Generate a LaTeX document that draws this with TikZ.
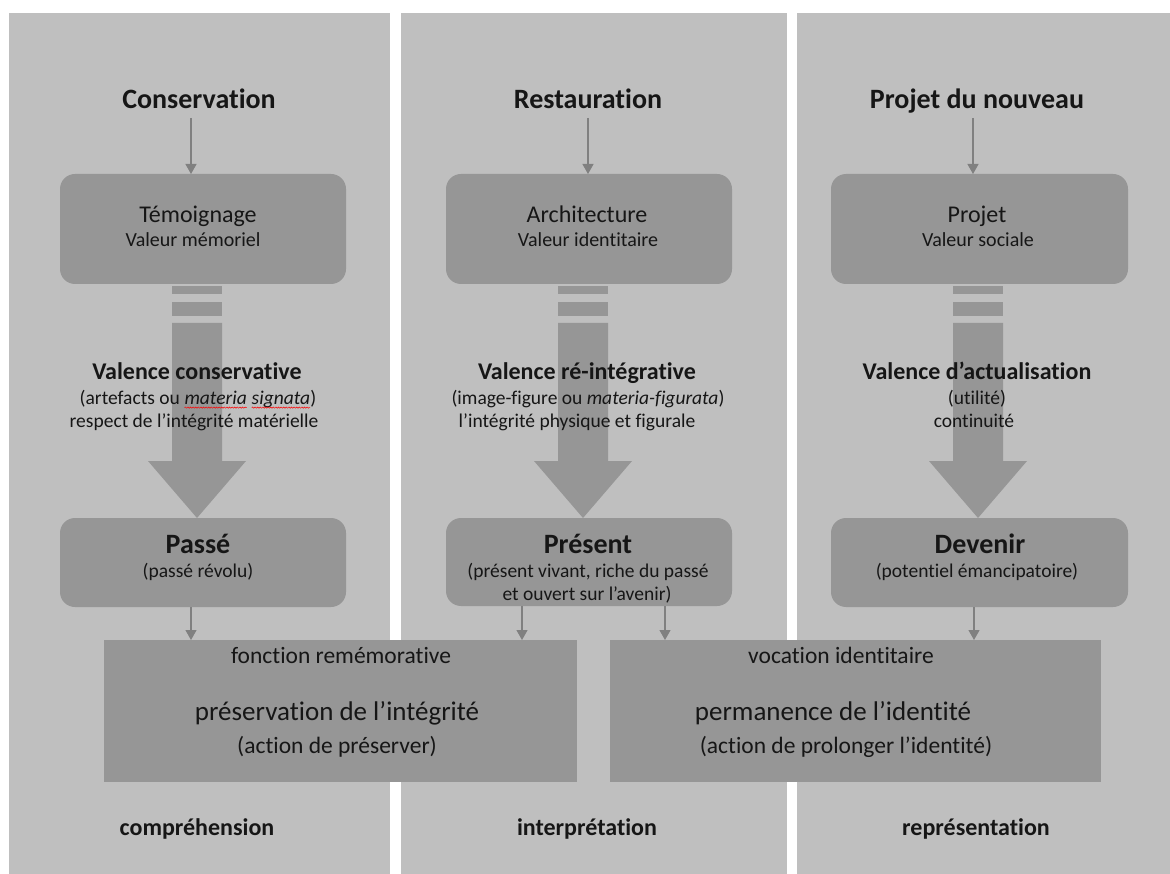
\documentclass[tikz,border=0pt]{standalone}
\usepackage{fontspec}
\setmainfont{Carlito}[Ligatures={NoCommon}]
\usetikzlibrary{arrows.meta,decorations.pathmorphing}
\definecolor{panelgray}{RGB}{191,191,191}
\definecolor{boxgray}{RGB}{150,150,150}
\definecolor{linegray}{RGB}{128,128,128}
\definecolor{textdark}{RGB}{22,22,22}
\newcommand{\fsz}[1]{\fontsize{#1}{1.2\dimexpr#1pt\relax}\selectfont}
\newcommand{\spellwave}[2]{\tikz[baseline=(#1.base)]{\node[inner sep=0pt,outer sep=0pt,anchor=base] (#1) {#2};\draw[red,line width=0.5pt,decorate,decoration={snake,amplitude=0.6pt,segment length=2.6pt}] ([yshift=-2.6pt]#1.base west) -- ([yshift=-2.6pt]#1.base east);}}
\tikzset{
  rbox/.style={fill=boxgray,draw=none,rounded corners=15pt,inner sep=0pt,outer sep=0pt},
  sbox/.style={fill=boxgray,draw=none,inner sep=0pt,outer sep=0pt},
  txt/.style={anchor=base,inner sep=0pt,outer sep=0pt,text=textdark},
  ttl/.style={txt,font=\fsz{28}\bfseries,text depth=0pt,inner ysep=9pt},
  boxmain/.style={txt,font=\fsz{24}},
  boxsub/.style={txt,font=\fsz{20}},
  valtitle/.style={txt,font=\fsz{24}\bfseries},
  valsub/.style={txt,font=\fsz{19.5}},
  stagetitle/.style={txt,font=\fsz{28}\bfseries},
  stagesub/.style={txt,font=\fsz{19.5}},
  bsmall/.style={txt,font=\fsz{23.5}},
  bbig/.style={txt,font=\fsz{27}},
  foot/.style={txt,font=\fsz{24}\bfseries},
  conn/.style={draw=linegray,line width=1.2pt,-{Triangle[width=11pt,length=10pt]}},
  bigarrow/.style={fill=boxgray,draw=none}
}
\begin{document}
\begin{tikzpicture}[x=1pt,y=-1pt]
\useasboundingbox (0,0) rectangle (1170,874);
\fill[white] (0,0) rectangle (1170,874);
% panels
\fill[panelgray] (9,13) rectangle (390,874);
\fill[panelgray] (401,13) rectangle (787,874);
\fill[panelgray] (797,13) rectangle (1170,874);

% column x coordinates
\coordinate (ax1) at (197,0);
\coordinate (ax2) at (583,0);
\coordinate (ax3) at (978,0);
\coordinate (k1) at (191,0);
\coordinate (k2) at (588,0);
\coordinate (k3) at (973,0);
\coordinate (m1) at (191,0);
\coordinate (m2) at (522,0);
\coordinate (m3) at (665,0);
\coordinate (m4) at (974,0);

% titles
\node[ttl] (t1) at (199,109) {Conservation};
\node[ttl] (t2) at (588,109) {Restauration};
\node[ttl] (t3) at (977,109) {Projet du nouveau};

% top boxes
\node[rbox,minimum width=286pt,minimum height=110pt] (b1) at (203,229) {};
\node[rbox,minimum width=286pt,minimum height=110pt] (b2) at (589,229) {};
\node[rbox,minimum width=297pt,minimum height=110pt] (b3) at (979.5,229) {};
\node[boxmain] (b1a) at (198,223) {Témoignage};
\node[boxsub]  (b1b) at (193,247) {Valeur mémoriel};
\node[boxmain] (b2a) at (587,223) {Architecture};
\node[boxsub]  (b2b) at (588,247) {Valeur identitaire};
\node[boxmain] (b3a) at (977,223) {Projet};
\node[boxsub]  (b3b) at (978,247) {Valeur sociale};

% stage boxes
\node[rbox,minimum width=286pt,minimum height=89pt] (p1) at (203,562.5) {};
\node[rbox,minimum width=286pt,minimum height=88pt] (p2) at (589,562) {};
\node[rbox,minimum width=297pt,minimum height=89pt] (p3) at (979.5,562.5) {};

% big arrows with stripes
\foreach \a/\b/\p in {ax1/b1/p1,ax2/b2/p2,ax3/b3/p3}{
  \fill[bigarrow] (\a |- \b.south) ++(-25,2) rectangle ++(50,8);
  \fill[bigarrow] (\a |- \b.south) ++(-25,18) rectangle ++(50,14);
  \fill[bigarrow] (\a |- \p.north) -- ++(-49,-57) -- ++(24,0) -- ++(0,-138) -- ++(50,0) -- ++(0,138) -- ++(24,0) -- cycle;
}

% valence texts
\node[valtitle] (v1a) at (197,380) {Valence conservative};
\node[valsub]   (v1b) at (198,405) {(artefacts ou \textit{\spellwave{w1}{materia} \spellwave{w2}{signata}})};
\node[valsub]   (v1c) at (194,428) {respect de l’intégrité matérielle};
\node[valtitle] (v2a) at (587,380) {Valence ré-intégrative};
\node[valsub]   (v2b) at (588,405) {(image-figure ou \textit{materia-figurata})};
\node[valsub]   (v2c) at (577,428) {l’intégrité physique et figurale};
\node[valtitle] (v3a) at (977,380) {Valence d’actualisation};
\node[valsub]   (v3b) at (977,405) {(utilité)};
\node[valsub]   (v3c) at (974,428) {continuité};

% stage texts
\node[stagetitle] (p1a) at (198,553) {Passé};
\node[stagesub]   (p1b) at (198,577) {(passé révolu)};
\node[stagetitle] (p2a) at (588,553) {Présent};
\node[stagesub]   (p2b) at (588,577) {(présent vivant, riche du passé};
\node[stagesub]   (p2c) at (587,600) {et ouvert sur l’avenir)};
\node[stagetitle] (p3a) at (980,553) {Devenir};
\node[stagesub]   (p3b) at (977,577) {(potentiel émancipatoire)};

% bottom boxes
\node[sbox,minimum width=473pt,minimum height=142pt] (L) at (340.5,711) {};
\node[sbox,minimum width=491pt,minimum height=142pt] (R) at (855.5,711) {};
\node[bsmall] (La) at (341,663) {fonction remémorative};
\node[bbig]   (Lb) at (337,720) {préservation de l’intégrité};
\node[bsmall] (Lc) at (337,753) {(action de préserver)};
\node[bsmall] (Ra) at (841,663) {vocation identitaire};
\node[bbig]   (Rb) at (833,720) {permanence de l’identité};
\node[bsmall] (Rc) at (846,753) {(action de prolonger l’identité)};

% footer labels
\node[foot] (f1) at (197,835) {compréhension};
\node[foot] (f2) at (587,835) {interprétation};
\node[foot] (f3) at (976,835) {représentation};

% connectors
\draw[conn] (t1.south -| k1) -- (b1.north -| k1);
\draw[conn] (t2.south -| k2) -- (b2.north -| k2);
\draw[conn] (t3.south -| k3) -- (b3.north -| k3);
\draw[conn] (p1.south -| m1) -- (L.north -| m1);
\draw[conn] (p2.south -| m2) -- (L.north -| m2);
\draw[conn] (p2.south -| m3) -- (R.north -| m3);
\draw[conn] (p3.south -| m4) -- (R.north -| m4);
\end{tikzpicture}
\end{document}
